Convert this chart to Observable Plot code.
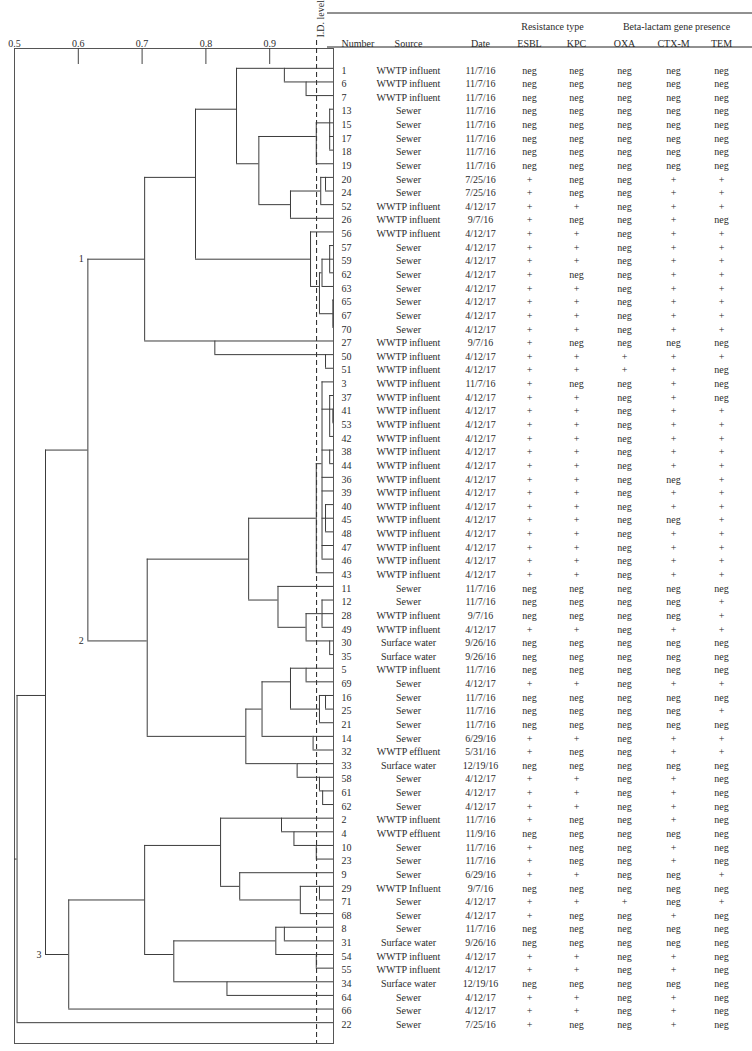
<!DOCTYPE html>
<html>
<head>
<meta charset="utf-8">
<script src="https://cdn.jsdelivr.net/npm/d3@7"></script>
<script src="https://cdn.jsdelivr.net/npm/@observablehq/plot@0.6"></script>
<style>
  html, body { margin: 0; padding: 0; background: #fff; }
  #chart svg { display: block; }
</style>
</head>
<body>
<div id="chart"></div>
<script>
// ---------------- DATA ----------------
const N = "neg", P = "+";

// Isolate number, in dendrogram order (top to bottom)
const isolate = ["1","6","7","13","15","17","18","19","20","24",
  "52","26","56","57","59","62","63","65","67","70",
  "27","50","51","3","37","41","53","42","38","44",
  "36","39","40","45","48","47","46","43","11","12",
  "28","49","30","35","5","69","16","25","21","14",
  "32","33","58","61","62","2","4","10","23","9",
  "29","71","68","8","31","54","55","34","64","66",
  "22"];

const WI = "WWTP influent", SE = "Sewer", SW = "Surface water", WE = "WWTP effluent";
const source = [WI,WI,WI,SE,SE,SE,SE,SE,SE,SE,
  WI,WI,WI,SE,SE,SE,SE,SE,SE,SE,
  WI,WI,WI,WI,WI,WI,WI,WI,WI,WI,
  WI,WI,WI,WI,WI,WI,WI,WI,SE,SE,
  WI,WI,SW,SW,WI,SE,SE,SE,SE,SE,
  WE,SW,SE,SE,SE,WI,WE,SE,SE,SE,
  "WWTP Influent",SE,SE,SE,SW,WI,WI,SW,SE,SE,
  SE];

const date = ["11/7/16","11/7/16","11/7/16","11/7/16","11/7/16","11/7/16","11/7/16","11/7/16","7/25/16","7/25/16",
  "4/12/17","9/7/16","4/12/17","4/12/17","4/12/17","4/12/17","4/12/17","4/12/17","4/12/17","4/12/17",
  "9/7/16","4/12/17","4/12/17","11/7/16","4/12/17","4/12/17","4/12/17","4/12/17","4/12/17","4/12/17",
  "4/12/17","4/12/17","4/12/17","4/12/17","4/12/17","4/12/17","4/12/17","4/12/17","11/7/16","11/7/16",
  "9/7/16","4/12/17","9/26/16","9/26/16","11/7/16","4/12/17","11/7/16","11/7/16","11/7/16","6/29/16",
  "5/31/16","12/19/16","4/12/17","4/12/17","4/12/17","11/7/16","11/9/16","11/7/16","11/7/16","6/29/16",
  "9/7/16","4/12/17","4/12/17","11/7/16","9/26/16","4/12/17","4/12/17","12/19/16","4/12/17","4/12/17",
  "7/25/16"];

const esbl = [N,N,N,N,N,N,N,N,P,P, P,P,P,P,P,P,P,P,P,P, P,P,P,P,P,P,P,P,P,P,
  P,P,P,P,P,P,P,P,N,N, N,P,N,N,N,P,N,N,N,P, P,N,P,P,P,P,N,P,P,P, N,P,P,N,N,P,P,N,P,P, P];
const kpc  = [N,N,N,N,N,N,N,N,N,N, P,N,P,P,P,N,P,P,P,P, N,P,P,N,P,P,P,P,P,P,
  P,P,P,P,P,P,P,P,N,N, N,P,N,N,N,P,N,N,N,P, N,N,P,P,P,N,N,N,N,P, N,P,N,N,N,P,P,N,P,P, N];
const oxa  = [N,N,N,N,N,N,N,N,N,N, N,N,N,N,N,N,N,N,N,N, N,P,P,N,N,N,N,N,N,N,
  N,N,N,N,N,N,N,N,N,N, N,N,N,N,N,N,N,N,N,N, N,N,N,N,N,N,N,N,N,N, N,P,N,N,N,N,N,N,N,N, N];
const ctxm = [N,N,N,N,N,N,N,N,P,P, P,P,P,P,P,P,P,P,P,P, N,P,P,P,P,P,P,P,P,P,
  N,P,P,N,P,P,P,P,N,N, N,P,N,N,N,P,N,N,N,P, P,N,P,P,P,P,N,P,P,N, N,N,P,N,N,P,P,N,P,P, P];
const tem  = [N,N,N,N,N,N,N,N,P,P, P,N,P,P,P,P,P,P,P,P, N,P,N,N,N,P,P,P,P,P,
  P,P,P,P,P,P,P,P,N,P, P,P,N,N,N,P,N,P,N,P, P,N,N,N,N,N,N,N,N,P, N,P,N,N,N,N,N,N,N,N, N];

// Dendrogram clusters: [first row, last row, similarity at which they join]
const clusters = [
  [1,2,0.957],[0,2,0.923],[3,6,0.994],[3,7,0.973],[8,9,0.9875],[8,10,0.980],[8,11,0.9326],
  [3,11,0.883],[0,11,0.848],[13,15,0.994],[13,16,0.982],[17,19,0.999],[13,19,0.978],
  [12,19,0.964],[0,19,0.7837],[21,22,0.9875],[20,22,0.814],[0,22,0.704],
  [25,26,0.999],[24,27,0.994],[28,29,0.994],[32,34,0.9875],[23,36,0.982],[23,37,0.973],
  [39,41,0.982],[42,43,0.994],[39,43,0.957],[38,43,0.913],[23,43,0.867],
  [44,45,0.957],[46,47,0.9875],[46,48,0.978],[44,48,0.9326],[49,50,0.968],[44,50,0.888],
  [53,54,0.983],[52,54,0.978],[51,54,0.943],[44,54,0.8626],[23,54,0.708],[0,54,0.615],
  [57,58,0.973],[56,58,0.938],[55,58,0.9185],[60,61,0.978],[60,62,0.948],[59,62,0.853],
  [55,62,0.823],[63,64,0.923],[65,66,0.973],[63,66,0.9096],[67,68,0.833],[63,68,0.7497],
  [55,68,0.704],[55,69,0.585],[0,69,0.5486],[0,70,0.504]
];
const clusterNames = [{name:"1", lo:0, hi:22},{name:"2", lo:23, hi:54},{name:"3", lo:55, hi:69}];

const xTicks = [0.5, 0.6, 0.7, 0.8, 0.9];
const idLevel = 0.9735;

const columns = [
  {key:"number", label:"Number", pos:341, anchor:"start"},
  {key:"source", label:"Source", pos:408},
  {key:"date",   label:"Date",   pos:480},
  {key:"esbl",   label:"ESBL",   pos:529},
  {key:"kpc",    label:"KPC",    pos:576},
  {key:"oxa",    label:"OXA",    pos:624},
  {key:"ctxm",   label:"CTX-M",  pos:673},
  {key:"tem",    label:"TEM",    pos:721}
];
const groups = [{label:"Resistance type", pos:552},{label:"Beta-lactam gene presence", pos:676}];

// ---------------- BUILD ----------------
const rows = d3.range(isolate.length);
const table = rows.map(i => ({row:i, number:isolate[i], source:source[i], date:date[i],
  esbl:esbl[i], kpc:kpc[i], oxa:oxa[i], ctxm:ctxm[i], tem:tem[i]}));

const nodes = clusters.map(([lo,hi,sim]) => ({lo,hi,sim,children:[],parent:null}))
  .sort((a,b) => (a.hi-a.lo)-(b.hi-b.lo));
for (const n of nodes) {
  let r = n.lo;
  while (r <= n.hi) {
    const cand = nodes.filter(m => m !== n && m.parent === null && m.lo === r && m.hi <= n.hi && (m.hi-m.lo) < (n.hi-n.lo));
    if (cand.length) {
      const c = cand.reduce((a,b) => (b.hi-b.lo) > (a.hi-a.lo) ? b : a);
      c.parent = n; n.children.push(c); r = c.hi + 1;
    } else {
      n.children.push({leaf:true, lo:r, hi:r, y:r, parent:n}); r++;
    }
  }
}
const root = nodes.filter(n => n.parent === null).reduce((a,b) => (b.hi-b.lo) > (a.hi-a.lo) ? b : a);
function setY(n) {
  if (n.leaf) return n.y;
  const ys = n.children.map(setY);
  n.y = Math.floor((ys[0] + ys[ys.length-1]) / 2);
  return n.y;
}
setY(root);
const vSeg = [], hSeg = [];
function walk(n) {
  if (n.leaf) return;
  vSeg.push({x:n.sim, y1:n.children[0].y, y2:n.children[n.children.length-1].y});
  for (const c of n.children) { hSeg.push({y:c.y, x1:n.sim, x2: c.leaf ? 1 : c.sim}); walk(c); }
}
walk(root);
hSeg.push({y:root.y, x1:0.5, x2:root.sim});

const labelData = clusterNames.map(c => {
  const n = nodes.find(m => m.lo === c.lo && m.hi === c.hi);
  return {name:c.name, x:n.parent.sim, y:n.y};
});

// ---------------- LAYOUT ----------------
const W = 752, H = 1051;
const boxLeft = 14, boxRight = 333, boxTop = 48, boxBottom = 1043;
const frameH = boxBottom - boxTop;
const ink = "#2b2b2b", lineInk = "#3c3c3c";

const headerMarks = columns.map(c => Plot.text([c.label], {
  frameAnchor:"top-right", dx: c.pos - boxRight, dy: 39 - boxTop,
  textAnchor: c.anchor || "middle", fill: ink
}));
const groupMarks = groups.map(g => Plot.text([g.label], {
  frameAnchor:"top-right", dx: g.pos - boxRight, dy: 22 - boxTop, textAnchor:"middle", fill: ink
}));
const cellMarks = columns.map(c => Plot.text(table, {
  y:"row", text:c.key, frameAnchor:"right", dx: c.pos - boxRight, dy: 2,
  textAnchor: c.anchor || "middle", fill: ink
}));

const chart = Plot.plot({
  width: W, height: H,
  marginLeft: boxLeft, marginRight: W - boxRight, marginTop: boxTop, marginBottom: H - boxBottom,
  x: {domain:[0.5, 1.0], axis:null},
  y: {type:"point", domain: rows, range:[61, 1029], axis:null},
  style: {fontFamily:"'Liberation Serif', 'DejaVu Serif', serif", fontSize:"10px", background:"#fff", color: ink},
  marks: [
    Plot.frame({stroke:"#555"}),
    Plot.ruleX(xTicks.slice(1), {stroke:"#444", insetBottom: frameH - 16}),
    Plot.text(xTicks, {x: d => d, frameAnchor:"top", dy:-9, text: d => d.toFixed(1), fill: ink}),
    Plot.ruleX([idLevel], {stroke:"#222", strokeDasharray:"5,3", insetTop:-8}),
    Plot.text(["I.D. level"], {x: () => idLevel, frameAnchor:"top", dy:-11, rotate:-90, textAnchor:"start", fill: ink}),
    Plot.ruleX(vSeg, {x:"x", y1:"y1", y2:"y2", stroke: lineInk}),
    Plot.ruleY(hSeg, {y:"y", x1:"x1", x2:"x2", stroke: lineInk}),
    Plot.text(labelData, {x:"x", y:"y", text:"name", textAnchor:"end", dx:-4, fill: ink}),
    ...groupMarks,
    ...headerMarks,
    ...cellMarks
  ]
});

// table rules (header lines)
const svg = d3.select(chart);
[13, 47].forEach(yy => {
  svg.append("line").attr("x1", 327).attr("x2", W).attr("y1", yy).attr("y2", yy)
    .attr("stroke", "#222").attr("stroke-width", 1);
});
document.getElementById("chart").appendChild(chart);
</script>
</body>
</html>
